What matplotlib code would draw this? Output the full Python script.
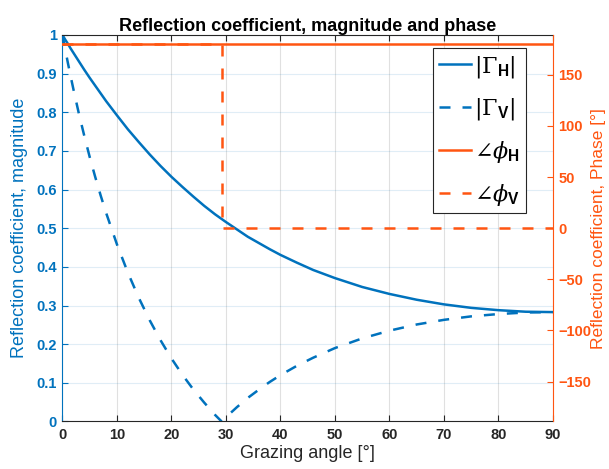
import matplotlib
matplotlib.use("Agg")
import matplotlib.pyplot as plt

# grazing angle [deg] and magnitudes
angle = [0, 0.5, 1, 1.5, 2, 3, 4, 5, 6, 7, 8, 10, 12, 14, 16, 18, 20, 22, 24, 26, 28,
         29.2, 30, 32, 34, 36, 38, 40, 43, 46, 50, 55, 60, 65, 70, 75, 80, 85, 90]
gamma_h = [1.000, 0.988, 0.977, 0.965, 0.954, 0.932, 0.910, 0.889, 0.869, 0.849, 0.829,
           0.792, 0.756, 0.723, 0.691, 0.661, 0.633, 0.607, 0.582, 0.558, 0.536,
           0.524, 0.516, 0.497, 0.478, 0.462, 0.446, 0.431, 0.411, 0.392, 0.371,
           0.348, 0.330, 0.315, 0.303, 0.294, 0.288, 0.284, 0.283]
gamma_v = [1.000, 0.963, 0.927, 0.893, 0.860, 0.797, 0.739, 0.684, 0.633, 0.585, 0.540,
           0.458, 0.385, 0.320, 0.262, 0.210, 0.163, 0.121, 0.083, 0.049, 0.017,
           0.000, 0.011, 0.037, 0.061, 0.082, 0.102, 0.120, 0.144, 0.165, 0.190,
           0.215, 0.235, 0.251, 0.263, 0.272, 0.278, 0.282, 0.283]

# phase [deg]
phase_h_angle = [0, 90]
phase_h = [180, 180]
phase_v_angle = [0, 29.2, 29.2, 90]
phase_v = [180, 180, 0, 0]

blue = '#0072BD'
orange = '#FF5511'

plt.rcParams['font.family'] = 'Liberation Sans'
plt.rcParams['mathtext.fontset'] = 'custom'
plt.rcParams['mathtext.rm'] = 'DejaVu Serif'
plt.rcParams['mathtext.it'] = 'DejaVu Serif:italic'
plt.rcParams['mathtext.bf'] = 'Liberation Sans:bold'

fig = plt.figure(figsize=(6.09, 4.69), dpi=100)
ax1 = fig.add_axes([0.1026, 0.1013, 0.8054, 0.8241])
ax2 = ax1.twinx()

l1, = ax1.plot(angle, gamma_h, color=blue, lw=1.8, label=r'$|\Gamma_{\mathbf{H}}|$')
l2, = ax1.plot(angle, gamma_v, color=blue, lw=1.8, dashes=(4.4, 4.8), label=r'$|\Gamma_{\mathbf{V}}|$')
l3, = ax2.plot(phase_h_angle, phase_h, color=orange, lw=1.8, label=r'$\angle\phi_{\mathbf{H}}$')
l4, = ax2.plot(phase_v_angle, phase_v, color=orange, lw=1.8, dashes=(4.4, 4.8), label=r'$\angle\phi_{\mathbf{V}}$')

ax1.set_xlim(0, 90)
ax1.set_ylim(0, 1)
ax2.set_ylim(-189, 189)
ax1.set_xticks(range(0, 91, 10))
ax1.set_yticks([i / 10 for i in range(11)])
ax1.set_yticklabels(['0', '0.1', '0.2', '0.3', '0.4', '0.5', '0.6', '0.7', '0.8', '0.9', '1'])
ax2.set_yticks(range(-150, 151, 50))

ax1.xaxis.grid(True, color='#000000', alpha=0.12, lw=0.8)
ax1.yaxis.grid(True, color=blue, alpha=0.12, lw=0.8)
ax1.set_axisbelow(True)

for lab in ax1.get_xticklabels() + ax1.get_yticklabels() + ax2.get_yticklabels():
    lab.set_fontweight('bold')
ax1.tick_params(axis='x', direction='in', top=True, length=4, labelsize=10.5, colors='#262626', pad=5)
ax1.tick_params(axis='y', direction='in', length=4, labelsize=10.5, colors=blue, pad=4)
ax2.tick_params(axis='y', direction='in', length=4, labelsize=10.5, colors=orange, pad=4)

ax1.spines['left'].set_color(blue)
ax1.spines['right'].set_visible(False)
ax1.spines['top'].set_color('#262626')
ax1.spines['bottom'].set_color('#262626')
ax2.spines['right'].set_color(orange)
ax2.spines['left'].set_visible(False)
ax2.spines['top'].set_visible(False)
ax2.spines['bottom'].set_visible(False)

ax1.set_title('Reflection coefficient, magnitude and phase', fontsize=13,
              fontweight='bold', pad=3)
ax1.set_xlabel('Grazing angle [°]', fontsize=13, color='#262626', labelpad=2)
ax1.set_ylabel('Reflection coefficient, magnitude', fontsize=13, color=blue)
ax1.yaxis.set_label_coords(-0.070, 0.5)
ax2.set_ylabel('Reflection coefficient, Phase [°]', fontsize=12.5, color=orange,
               rotation=90, ha='center', va='top')
ax2.yaxis.set_label_coords(1.077, 0.5)

leg = ax2.legend(handles=[l1, l2, l3, l4], loc='upper right',
                 bbox_to_anchor=(0.945, 0.966), fontsize=16, fancybox=False,
                 framealpha=1, edgecolor='#262626', handlelength=1.45,
                 handletextpad=0.15, labelspacing=0.75, borderpad=0.25,
                 borderaxespad=0)
leg.get_frame().set_linewidth(0.8)

fig.savefig('out.png', dpi=100)
